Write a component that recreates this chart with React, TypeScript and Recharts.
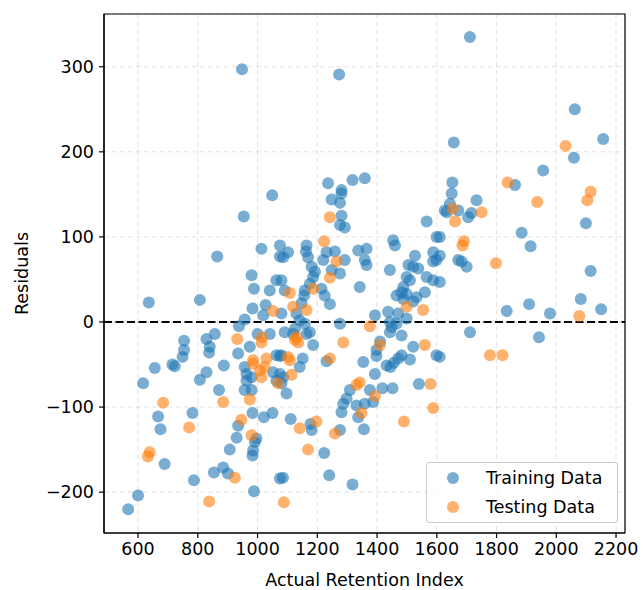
import React from 'react';
import {
  ScatterChart,
  Scatter,
  XAxis,
  YAxis,
  CartesianGrid,
  ReferenceLine,
  ReferenceArea
} from 'recharts';

// [actual retention index, residual]
const trainingPoints: [number, number][] = [
  [948, 297], [1273, 291], [1711, 335], [2062, 250], [1657, 211], [2157, 215],
  [2059, 193], [1956, 178], [1652, 164], [1862, 161], [1236, 163], [1318, 167],
  [1359, 169], [1281, 155], [1049, 149], [1650, 151], [1644, 139], [1627, 131],
  [1672, 131], [1705, 123], [1716, 128], [1733, 143], [2099, 116], [1884, 105],
  [1914, 89], [1672, 73], [1683, 71], [1700, 65], [2115, 60], [1610, 100],
  [1610, 78], [1610, 47], [2082, 27], [1909, 21], [1834, 13], [1979, 10],
  [2150, 15], [1711, -12], [1942, -18], [1610, -41], [954, 124], [1013, 86],
  [1075, 77], [865, 77], [980, 55], [988, 39], [1041, 37], [1063, 49],
  [636, 23], [807, 26], [983, 16], [1027, 20], [1019, 8], [957, 3],
  [938, -5], [857, -14], [829, -20], [840, -29], [838, -36], [754, -22],
  [754, -33], [749, -41], [1000, -14], [1041, -14], [974, -29], [935, -37],
  [1063, -39], [1075, 90], [1281, 151], [1248, 144], [1276, 140], [1281, 125],
  [1276, 114], [1292, 111], [1164, 90], [1162, 83], [1102, 82], [1086, 76],
  [1169, 76], [1181, 65], [1231, 82], [1259, 83], [1220, 73], [1292, 73],
  [1248, 61], [1186, 53], [1175, 45], [1158, 37], [1214, 39], [1225, 31],
  [1242, 21], [1080, 49], [1156, 31], [1147, 22], [1080, 10], [1130, 10],
  [1141, 2], [1158, -2], [1091, -12], [1119, -14], [1175, -12], [1186, -27],
  [1080, -39], [1151, -43], [1276, -2], [1342, 41], [1365, 86], [1337, 84],
  [1359, 73], [1365, 67], [1454, 96], [1460, 90], [1443, 61], [1527, 78],
  [1505, 67], [1538, 63], [1499, 53], [1510, 49], [1488, 41], [1482, 35],
  [1499, 33], [1465, 31], [1488, 27], [1532, 29], [1560, 35], [1566, 53],
  [1588, 49], [1588, 82], [1588, 71], [1599, 100], [1566, 118], [1633, 129],
  [1437, 12], [1471, 10], [1499, 4], [1449, -6], [1443, -12], [1482, -16],
  [1393, 8], [1398, -33], [1521, -29], [1599, -39], [1482, -39], [656, -54],
  [617, -72], [715, -50], [723, -52], [807, -68], [829, -59], [871, -80],
  [887, -51], [667, -111], [675, -126], [782, -107], [689, -167], [600, -204],
  [567, -220], [787, -186], [854, -177], [885, -171], [901, -178], [907, -150],
  [930, -136], [935, -122], [980, -80], [957, -80], [983, -107], [1021, -112],
  [1050, -107], [991, -141], [985, -151], [983, -157], [996, -137], [988, -199],
  [1075, -184], [963, -61], [963, -69], [957, -53], [1052, -59], [1063, -69],
  [980, -65], [1075, -40], [1141, -53], [1075, -61], [1080, -72], [1097, -84],
  [1111, -114], [1181, -127], [1223, -154], [1085, -183], [1240, -180], [1318, -191],
  [1276, -127], [1281, -106], [1298, -90], [1309, -80], [1331, -98], [1337, -112],
  [1356, -126], [1376, -80], [1387, -94], [1418, -78], [1452, -78], [1393, -61],
  [1354, -47], [1398, -40], [1445, -53], [1456, -48], [1510, -44], [1540, -73],
  [1231, -46], [1177, -120], [1091, 37], [1276, 57], [1125, -8], [1164, -14],
  [1521, 24], [1443, 0], [1465, -2], [1410, -23], [1432, -51], [1471, -43],
  [1287, -96], [1359, -96], [1086, -65], [1192, 59], [1521, 65], [1599, 73]
];

const testingPoints: [number, number][] = [
  [2031, 207], [1837, 164], [2115, 153], [1653, 133], [1661, 118], [1750, 129],
  [1936, 141], [2104, 143], [1691, 95], [1686, 90], [1798, 69], [2077, 7],
  [1778, -39], [1820, -39], [1052, 13], [932, -20], [1015, -18], [1013, -24],
  [1030, -43], [985, -45], [1242, 123], [1223, 95], [1264, 71], [1242, 52],
  [1186, 39], [1108, 34], [1119, 18], [1164, 14], [1125, -21], [1136, -24],
  [1130, -18], [1102, -41], [1242, -43], [1287, -24], [1499, 18], [1554, 14],
  [1376, -5], [1410, -27], [1560, -27], [885, -94], [684, -95], [771, -124],
  [639, -153], [633, -158], [838, -211], [924, -183], [946, -115], [974, -91],
  [980, -133], [1088, -212], [985, -49], [1008, -57], [1013, -65], [1108, -45],
  [1114, -62], [1141, -125], [1197, -117], [1169, -150], [1259, -131], [1348, -107],
  [1342, -71], [1393, -87], [1579, -73], [1588, -101], [1490, -117], [1024, -53],
  [1069, -72], [1331, -74]
];

const xTicks = [600, 800, 1000, 1200, 1400, 1600, 1800, 2000, 2200];
const yTicks = [-200, -100, 0, 100, 200, 300];

const xDomain: [number, number] = [486, 2230];
const yDomain: [number, number] = [-248, 362];

const BLUE = '#1f77b4';
const ORANGE = '#ff7f0e';
const FONT = 'DejaVu Sans, sans-serif';

const trainData = trainingPoints.map(([x, y]) => ({ x, y }));
const testData = testingPoints.map(([x, y]) => ({ x, y }));

const fmt = (v: number) => (v < 0 ? `\u2212${-v}` : `${v}`);

const dot = (color: string) => (props: any) => (
  <circle cx={props.cx} cy={props.cy} r={6} fill={color} fillOpacity={0.6} />
);

function LegendBox() {
  const row = (color: string, label: string, top: number) => (
    <div style={{ position: 'absolute', left: 0, top, height: 20, display: 'flex', alignItems: 'center' }}>
      <svg width={52} height={20} style={{ display: 'block' }}>
        <circle cx={26} cy={10} r={6} fill={color} fillOpacity={0.6} />
      </svg>
      <span style={{ marginLeft: 7, fontSize: 17.5, color: '#000', lineHeight: '20px' }}>{label}</span>
    </div>
  );
  return (
    <div
      style={{
        position: 'absolute',
        left: 426,
        top: 462,
        width: 192,
        height: 61,
        boxSizing: 'border-box',
        border: '1px solid #cccccc',
        borderRadius: 3,
        background: 'rgba(255,255,255,0.8)',
        fontFamily: FONT
      }}
    >
      {row(BLUE, 'Training Data', 5)}
      {row(ORANGE, 'Testing Data', 34)}
    </div>
  );
}

export default function App() {
  return (
    <div style={{ position: 'relative', width: 643, height: 590, fontFamily: FONT, background: '#fff' }}>
      <style>{'body{margin:0}'}</style>
      <ScatterChart width={643} height={590} margin={{ top: 14, right: 18, bottom: 0, left: 0 }}>
        <CartesianGrid stroke="#b0b0b0" strokeOpacity={0.35} strokeDasharray="5 3" />
        <XAxis
          type="number"
          dataKey="x"
          domain={xDomain}
          ticks={xTicks}
          allowDataOverflow
          height={57}
          tickSize={5}
          tickMargin={5}
          axisLine={{ stroke: '#000', strokeWidth: 1.2 }}
          tickLine={{ stroke: '#000', strokeWidth: 1.2 }}
          tick={{ fontSize: 17.5, fill: '#000', fontFamily: FONT }}
          label={{ value: 'Actual Retention Index', position: 'insideBottom', offset: 4, fontSize: 17.5, fill: '#000', fontFamily: FONT }}
        />
        <YAxis
          type="number"
          dataKey="y"
          domain={yDomain}
          ticks={yTicks}
          allowDataOverflow
          width={104}
          tickSize={5}
          tickMargin={5}
          tickFormatter={fmt}
          axisLine={{ stroke: '#000', strokeWidth: 1.2 }}
          tickLine={{ stroke: '#000', strokeWidth: 1.2 }}
          tick={{ fontSize: 17.5, fill: '#000', fontFamily: FONT }}
          label={{ value: 'Residuals', angle: -90, position: 'center', dx: -30, fontSize: 17.5, fill: '#000', fontFamily: FONT }}
        />
        <Scatter name="Training Data" data={trainData} shape={dot(BLUE)} isAnimationActive={false} />
        <Scatter name="Testing Data" data={testData} shape={dot(ORANGE)} isAnimationActive={false} />
        <ReferenceLine y={0} stroke="#000" strokeWidth={2} strokeDasharray="8 3.5" />
        <ReferenceArea x1={xDomain[0]} x2={xDomain[1]} y1={yDomain[0]} y2={yDomain[1]} fill="none" stroke="#000" strokeWidth={1.2} ifOverflow="visible" />
      </ScatterChart>
      <LegendBox />
    </div>
  );
}
